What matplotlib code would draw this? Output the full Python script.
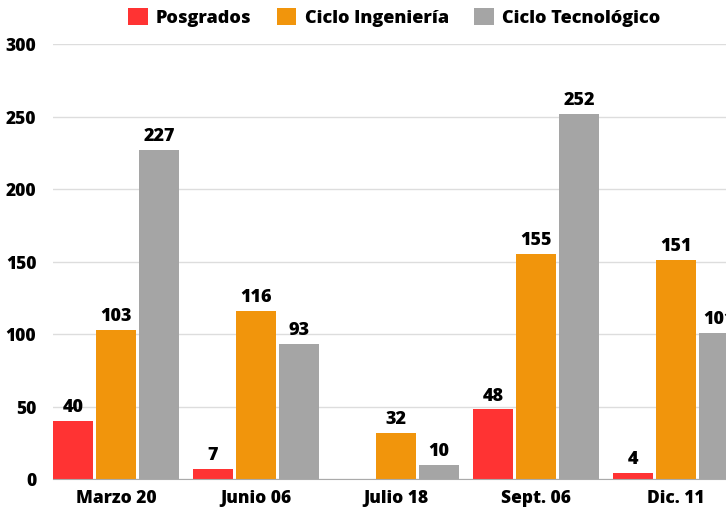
import numpy as np
import matplotlib.pyplot as plt
from matplotlib.patches import Patch

plt.rcParams['font.family'] = ['Open Sans', 'DejaVu Sans']
plt.rcParams['font.weight'] = 'heavy'

# --- datos ---
categorias = ['Marzo 20', 'Junio 06', 'Julio 18', 'Sept. 06', 'Dic. 11']
posgrados = [40, 7, 0, 48, 4]
ingenieria = [103, 116, 32, 155, 151]
tecnologico = [227, 93, 10, 252, 101]
series = ['Posgrados', 'Ciclo Ingeniería', 'Ciclo Tecnológico']
colores = ['#FF3333', '#F1950C', '#A5A5A5']

fig = plt.figure(figsize=(7.26, 5.1), dpi=100)
ax = fig.add_axes([53 / 726, 30 / 510, 700 / 726, 435 / 510])

x = np.arange(len(categorias))
w = 40 / 140
off = 43 / 140
for i, (vals, col) in enumerate(zip([posgrados, ingenieria, tecnologico], colores)):
    pos = x + (i - 1) * off
    ax.bar(pos, vals, width=w, color=col, zorder=3)
    for p, v in zip(pos, vals):
        if v > 0:
            ax.text(p, v + 4, str(v), ha='center', va='bottom',
                    fontsize=13, fontweight='heavy', color='black', zorder=4)

ax.set_xlim(-0.45, 4.55)
ax.set_ylim(0, 300)
ax.set_yticks(range(0, 301, 50))
ax.set_xticks(x)
ax.set_xticklabels(categorias)
ax.tick_params(axis='both', length=0, labelsize=12.5)
ax.tick_params(axis='y', pad=12)
ax.tick_params(axis='x', pad=7)
ax.grid(axis='y', color='#DDDDDD', linewidth=1, zorder=0)
for s in ['top', 'right', 'left']:
    ax.spines[s].set_visible(False)
ax.spines['bottom'].set_color('#AAAAAA')
ax.spines['bottom'].set_zorder(5)

handles = [Patch(facecolor=c, label=s) for c, s in zip(colores, series)]
fig.legend(handles=handles, loc='center', bbox_to_anchor=(394 / 726, 1 - 18 / 510),
           ncol=3, frameon=False, fontsize=13, handlelength=1.1, handleheight=1.1,
           columnspacing=1.4, handletextpad=0.45)

fig.savefig('out.png', dpi=100)
